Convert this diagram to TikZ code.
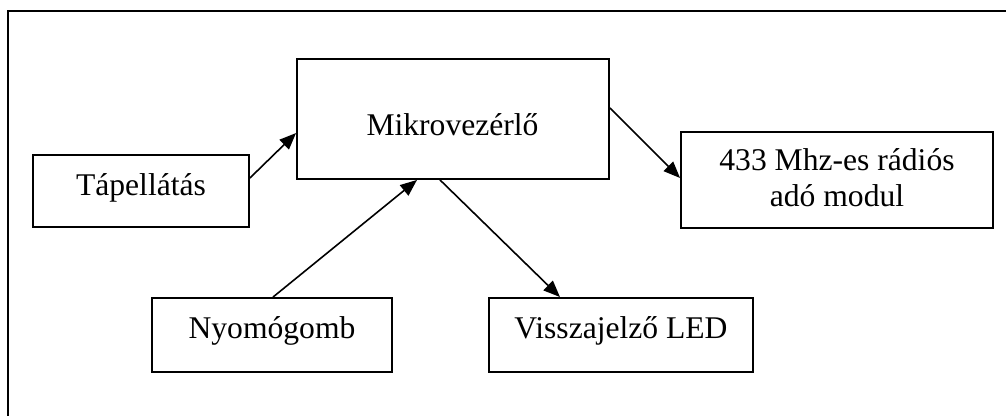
\documentclass[tikz,border=0pt]{standalone}
\usepackage{fontspec}
\setmainfont{Liberation Serif}
\usetikzlibrary{arrows.meta,calc}

\tikzset{
  box/.style={draw=black, line width=1.4pt, rectangle, inner sep=0pt},
  lbl/.style={anchor=base, inner sep=0pt, font=\fontsize{23.7}{27.5}\selectfont},
  link/.style={draw=black, line width=1.2pt, -{Triangle[length=12.5pt,width=10pt]}},
  frame/.style={draw=black, line width=1.5pt}
}

\begin{document}
\begin{tikzpicture}[x=0.75pt,y=-0.75pt]
  % canvas, the outer frame runs past the right and bottom edges
  \clip (0,0) rectangle (1006,415);
  \draw[frame] (8,11) rectangle (1040,450);

  % blocks (sizes in pt)
  \node[box, minimum width=162pt, minimum height=54pt] (pwr) at (141,191) {};
  \node[box, minimum width=234pt, minimum height=90pt] (mcu) at (453,119) {};
  \node[box, minimum width=180pt, minimum height=55.5pt] (btn) at (272,335) {};
  \node[box, minimum width=198pt, minimum height=55.5pt] (led) at (621,335) {};
  \node[box, minimum width=234pt, minimum height=72pt] (rf) at (837,180) {};

  % block captions
  \node[lbl] (pwr-txt) at (141,195) {Tápellátás};
  \node[lbl] (mcu-txt) at (452.5,135) {Mikrovezérlő};
  \node[lbl] (btn-txt) at (272,338) {Nyomógomb};
  \node[lbl] (led-txt) at (621,338) {Visszajelző LED};
  \node[lbl] (rf-txt1) at (837,170) {433 Mhz-es rádiós};
  \node[lbl] (rf-txt2) at (837,206.7) {adó modul};

  % signal flow
  \draw[link] ($(pwr.east)+(0,-13)$) -- ($(mcu.west)+(0,14)$);
  \draw[link] ($(btn.north)+(1,0)$) -- ($(mcu.south)+(-36,0)$);
  \draw[link] ($(mcu.south)+(-13,0)$) -- ($(led.north)+(-61,0)$);
  \draw[link] ($(mcu.east)+(0,-11)$) -- ($(rf.west)+(0,-2)$);
\end{tikzpicture}
\end{document}
